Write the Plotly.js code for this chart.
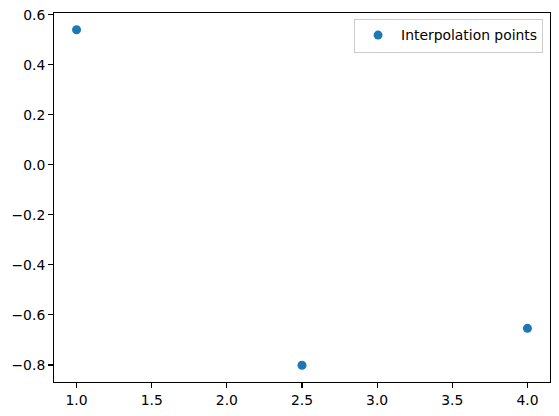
<!DOCTYPE html>
<html>
<head>
<meta charset="utf-8">
<script src="https://cdn.plot.ly/plotly-3.0.1.min.js"></script>
<style>html,body{margin:0;padding:0;background:#fff;}#chart{width:559px;height:416px;}</style>
</head>
<body>
<div id="chart"></div>
<script>
const xPoints = [1.0, 2.5, 4.0];
const yPoints = [0.5403, -0.8011, -0.6536];
const seriesName = "Interpolation points";
const xTickVals = [1.0, 1.5, 2.0, 2.5, 3.0, 3.5, 4.0];
const xTickText = ["1.0", "1.5", "2.0", "2.5", "3.0", "3.5", "4.0"];
const yTickVals = [-0.8, -0.6, -0.4, -0.2, 0.0, 0.2, 0.4, 0.6];
const yTickText = ["\u22120.8", "\u22120.6", "\u22120.4", "\u22120.2", "0.0", "0.2", "0.4", "0.6"];

const font = {family: "DejaVu Sans", size: 13.9, color: "#000"};
const trace = {
  x: xPoints, y: yPoints, type: "scatter", mode: "markers", name: seriesName,
  marker: {color: "#1f77b4", size: 9}, showlegend: true
};
const axisCommon = {
  showgrid: false, zeroline: false, showline: true, mirror: true,
  linecolor: "#000", linewidth: 1.1, ticks: "outside", ticklen: 4.9,
  tickwidth: 1.1, tickcolor: "#000", tickfont: font, tickmode: "array"
};
const layout = {
  width: 559, height: 416,
  margin: {l: 54, r: 9, t: 13, b: 34},
  paper_bgcolor: "#fff", plot_bgcolor: "#fff",
  font: font,
  showlegend: true,
  xaxis: Object.assign({}, axisCommon, {range: [0.85, 4.15], tickvals: xTickVals, ticktext: xTickText}),
  yaxis: Object.assign({}, axisCommon, {range: [-0.8682, 0.6074], tickvals: yTickVals, ticktext: yTickText}),
  legend: {
    x: 0.986, y: 0.985, xanchor: "right", yanchor: "top",
    bordercolor: "#cccccc", borderwidth: 1, bgcolor: "rgba(255,255,255,0.8)",
    font: font, itemwidth: 36
  }
};
Plotly.newPlot("chart", [trace], layout, {displayModeBar: false, staticPlot: true});
</script>
</body>
</html>
